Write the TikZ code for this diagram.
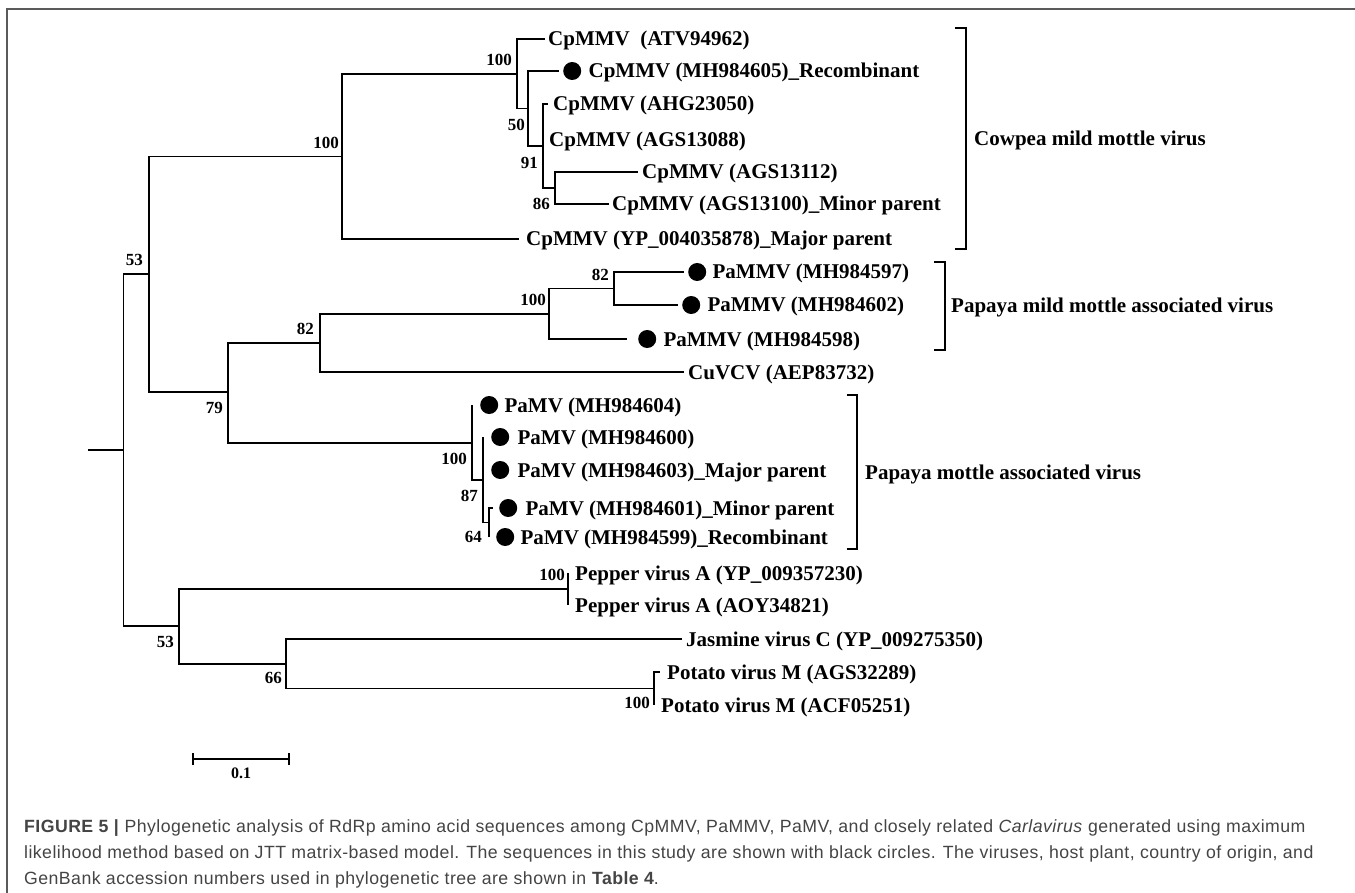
\documentclass[tikz,border=0pt]{standalone}
\usepackage{fontspec}
\setmainfont{Liberation Serif}
\setsansfont{Liberation Sans}
\newfontfamily\capfont[LetterSpace=2.5]{Liberation Sans}
\usetikzlibrary{positioning}
\definecolor{capgray}{HTML}{444444}
\definecolor{framegray}{HTML}{5A5A5A}
\tikzset{
	leaf/.style={anchor=west, inner sep=0pt, text height=14pt, text depth=0pt, font=\fontsize{21}{24}\selectfont\bfseries},
	grp/.style={leaf},
	boot/.style={anchor=east, inner sep=0pt, font=\fontsize{17}{19}\selectfont\bfseries},
	seqdot/.style={circle, fill=black, inner sep=0pt, minimum size=18pt},
	branch/.style={line width=1.5pt},
	captext/.style={anchor=base west, inner sep=0pt, text=capgray, font=\capfont\fontsize{17.7}{20}\selectfont},
}
\begin{document}
\begin{tikzpicture}[x=1pt, y=-1pt]
	    \useasboundingbox (0,0) rectangle (1355,893);
	    \draw[framegray, line width=1.5pt] (7,893) -- (7,9) -- (1355,9);
	    \coordinate (r0) at (88,450);
	    \coordinate (root) at (123.5,450);
	    \coordinate (n53a) at (149,274);
	    \coordinate (n100) at (342,156.5);
	    \coordinate (n100a) at (517,74);
	    \coordinate (n50) at (528,108.5);
	    \coordinate (n91) at (543,146);
	    \coordinate (n86) at (555,188);
	    \coordinate (n79) at (228,392);
	    \coordinate (n82b) at (320,343);
	    \coordinate (n100b) at (549,314);
	    \coordinate (n82a) at (614,288.5);
	    \coordinate (n100c) at (472,443);
	    \coordinate (n87) at (483,480);
	    \coordinate (n64) at (489,522.5);
	    \coordinate (n53b) at (179,626);
	    \coordinate (n100d) at (568,589);
	    \coordinate (n66) at (286,664);
	    \coordinate (n100e) at (654,688.5);
	    \coordinate (t1) at (545,39);
	    \coordinate (t2) at (559,71);
	    \coordinate (t3) at (548,104);
	    \coordinate (t4) at (543,140);
	    \coordinate (t5) at (638,172);
	    \coordinate (t6) at (609,204);
	    \coordinate (t7) at (519,239);
	    \coordinate (t8) at (684,272);
	    \coordinate (t9) at (678,305);
	    \coordinate (t10) at (627,339);
	    \coordinate (t11) at (684,372);
	    \coordinate (t12) at (472,405);
	    \coordinate (t13) at (483,437);
	    \coordinate (t14) at (483,470);
	    \coordinate (t15) at (493,508);
	    \coordinate (t16) at (489,537);
	    \coordinate (t17) at (568,573);
	    \coordinate (t18) at (568,605);
	    \coordinate (t19) at (682,639);
	    \coordinate (t20) at (660,672);
	    \coordinate (t21) at (654,705);
	    \node[leaf, right=3pt of t1] (l1) {CpMMV\ \ (ATV94962)};
	    \node[seqdot, right=4pt of t2] (d2) {};
	    \node[leaf, right=7pt of d2] (l2) {CpMMV (MH984605)\_Recombinant};
	    \node[leaf, right=5pt of t3] (l3) {CpMMV (AHG23050)};
	    \node[leaf, right=6pt of t4] (l4) {CpMMV (AGS13088)};
	    \node[leaf, right=4pt of t5] (l5) {CpMMV (AGS13112)};
	    \node[leaf, right=3pt of t6] (l6) {CpMMV (AGS13100)\_Minor parent};
	    \node[leaf, right=7pt of t7] (l7) {CpMMV (YP\_004035878)\_Major parent};
	    \node[seqdot, right=4pt of t8] (d8) {};
	    \node[leaf, right=6pt of d8] (l8) {PaMMV (MH984597)};
	    \node[seqdot, right=4pt of t9] (d9) {};
	    \node[leaf, right=7pt of d9] (l9) {PaMMV (MH984602)};
	    \node[seqdot, right=11pt of t10] (d10) {};
	    \node[leaf, right=7pt of d10] (l10) {PaMMV (MH984598)};
	    \node[leaf, right=4pt of t11] (l11) {CuVCV (AEP83732)};
	    \node[seqdot, right=8pt of t12] (d12) {};
	    \node[leaf, right=6pt of d12] (l12) {PaMV (MH984604)};
	    \node[seqdot, right=8pt of t13] (d13) {};
	    \node[leaf, right=8pt of d13] (l13) {PaMV (MH984600)};
	    \node[seqdot, right=8pt of t14] (d14) {};
	    \node[leaf, right=8pt of d14] (l14) {PaMV (MH984603)\_Major parent};
	    \node[seqdot, right=6pt of t15] (d15) {};
	    \node[leaf, right=8pt of d15] (l15) {PaMV (MH984601)\_Minor parent};
	    \node[seqdot, right=7pt of t16] (d16) {};
	    \node[leaf, right=6pt of d16] (l16) {PaMV (MH984599)\_Recombinant};
	    \node[leaf, right=7pt of t17] (l17) {Pepper virus A (YP\_009357230)};
	    \node[leaf, right=7pt of t18] (l18) {Pepper virus A (AOY34821)};
	    \node[leaf, right=4pt of t19] (l19) {Jasmine virus C (YP\_009275350)};
	    \node[leaf, right=7pt of t20] (l20) {Potato virus M (AGS32289)};
	    \node[leaf, right=7pt of t21] (l21) {Potato virus M (ACF05251)};
	    \draw[branch] (r0) -- (root);
	    \draw[branch] (root) |- (n53a);
	    \draw[branch] (root) |- (n53b);
	    \draw[branch] (n53a) |- (n100);
	    \draw[branch] (n53a) |- (n79);
	    \draw[branch] (n100) |- (n100a);
	    \draw[branch] (n100) |- (t7);
	    \draw[branch] (n100a) |- (t1);
	    \draw[branch] (n100a) |- (n50);
	    \draw[branch] (n50) |- (t2);
	    \draw[branch] (n50) |- (n91);
	    \draw[branch] (n91) |- (t3);
	    \draw[branch] (n91) |- (t4);
	    \draw[branch] (n91) |- (n86);
	    \draw[branch] (n86) |- (t5);
	    \draw[branch] (n86) |- (t6);
	    \draw[branch] (n79) |- (n82b);
	    \draw[branch] (n79) |- (n100c);
	    \draw[branch] (n82b) |- (n100b);
	    \draw[branch] (n82b) |- (t11);
	    \draw[branch] (n100b) |- (n82a);
	    \draw[branch] (n100b) |- (t10);
	    \draw[branch] (n82a) |- (t8);
	    \draw[branch] (n82a) |- (t9);
	    \draw[branch] (n100c) |- (t12);
	    \draw[branch] (n100c) |- (n87);
	    \draw[branch] (n87) |- (t13);
	    \draw[branch] (n87) |- (t14);
	    \draw[branch] (n87) |- (n64);
	    \draw[branch] (n64) |- (t15);
	    \draw[branch] (n64) |- (t16);
	    \draw[branch] (n53b) |- (n100d);
	    \draw[branch] (n53b) |- (n66);
	    \draw[branch] (n100d) |- (t17);
	    \draw[branch] (n100d) |- (t18);
	    \draw[branch] (n66) |- (t19);
	    \draw[branch] (n66) |- (n100e);
	    \draw[branch] (n100e) |- (t20);
	    \draw[branch] (n100e) |- (t21);
	    \node[boot] (b1) at (512,60) {100};
	    \node[boot] (b2) at (525,125) {50};
	    \node[boot] (b3) at (538,163) {91};
	    \node[boot] (b4) at (550,204) {86};
	    \node[boot] (b5) at (339,143) {100};
	    \node[boot] (b6) at (143,260) {53};
	    \node[boot] (b7) at (609,275) {82};
	    \node[boot] (b8) at (546,300) {100};
	    \node[boot] (b9) at (314,329) {82};
	    \node[boot] (b10) at (223,408) {79};
	    \node[boot] (b11) at (467,459) {100};
	    \node[boot] (b12) at (478,496) {87};
	    \node[boot] (b13) at (482,537) {64};
	    \node[boot] (b14) at (565,575) {100};
	    \node[boot] (b15) at (174,642) {53};
	    \node[boot] (b16) at (282,678) {66};
	    \node[boot] (b17) at (650,703) {100};
	    \coordinate (k1a) at (955,28);
	    \coordinate (k1b) at (955,249);
	    \coordinate (k2a) at (934,262);
	    \coordinate (k2b) at (934,350);
	    \coordinate (k3a) at (847,395);
	    \coordinate (k3b) at (847,549);
	    \draw[branch] (k1a) -- ++(11,0) |- (k1b);
	    \draw[branch] (k2a) -- ++(11,0) |- (k2b);
	    \draw[branch] (k3a) -- ++(10,0) |- (k3b);
	    \node[grp] (g1) at (974,138.5) {Cowpea mild mottle virus};
	    \node[grp] (g2) at (951,306) {Papaya mild mottle associated virus};
	    \node[grp] (g3) at (865,472) {Papaya mottle associated virus};
	    \coordinate (s0) at (193,759);
	    \coordinate (s1) at (289,759);
	    \draw[branch] (s0) -- (s1);
	    \draw[branch] (s0) ++(0,-6) -- ++(0,12);
	    \draw[branch] (s1) ++(0,-6) -- ++(0,12);
	    \node[font=\fontsize{16}{18}\selectfont\bfseries, inner sep=0pt] (sl) at (241,773) {0.1};
	    \node[captext] (c1) at (24,832) {\textbf{FIGURE 5 |} Phylogenetic analysis of RdRp amino acid sequences among CpMMV, PaMMV, PaMV, and closely related \textit{Carlavirus} generated using maximum};
	    \node[captext] (c2) at (24,858) {likelihood method based on JTT matrix-based model. The sequences in this study are shown with black circles. The viruses, host plant, country of origin, and};
	    \node[captext] (c3) at (24,884) {GenBank accession numbers used in phylogenetic tree are shown in \textbf{Table 4}.};
        \end{tikzpicture}
\end{document}
